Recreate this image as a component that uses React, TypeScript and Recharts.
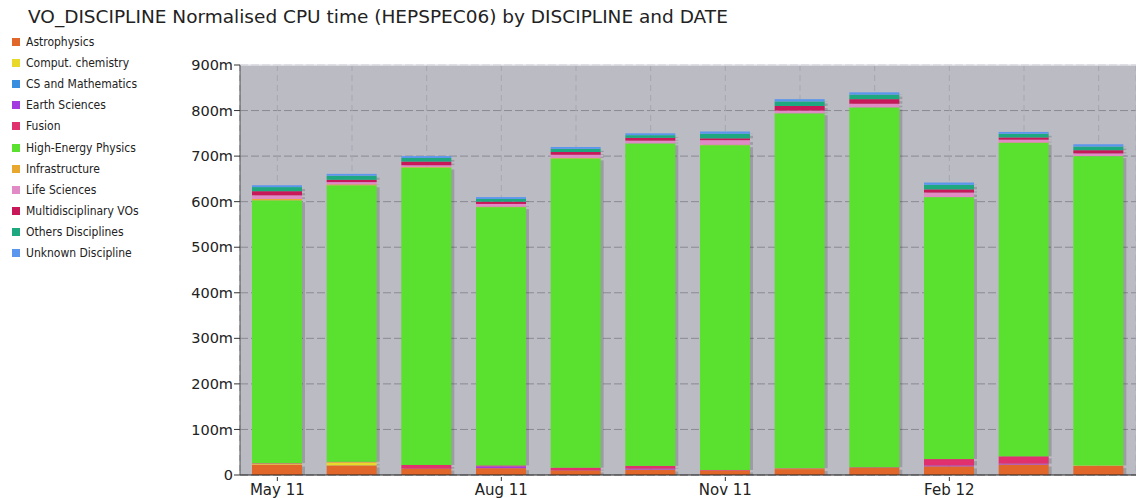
import React from "react"
import { BarChart, Bar, XAxis, YAxis, CartesianGrid, ReferenceLine } from "recharts"

const months = ["May 11", "Jun 11", "Jul 11", "Aug 11", "Sep 11", "Oct 11", "Nov 11", "Dec 11", "Jan 12", "Feb 12", "Mar 12", "Apr 12"]
const shownTicks = ["May 11", "Aug 11", "Nov 11", "Feb 12"]
const yTicks = [0, 100, 200, 300, 400, 500, 600, 700, 800, 900]
const yMinorTicks = [50, 150, 250, 350, 450, 550, 650, 750, 850]

// values in millions (the chart shows them with an "m" suffix)
const astrophysics = [23, 21, 14, 15, 10, 12, 10, 13, 16, 19, 23, 20]
const computChemistry = [2, 7, 0, 0, 0, 0, 0, 1, 0, 0, 0, 1]
const csMathematics = [0, 0, 0, 0, 0, 0, 0, 0, 0, 0, 0, 0]
const earthSciences = [0, 0, 0, 4, 0, 2, 0, 0, 0, 2, 2, 0]
const fusion = [1, 1, 8, 2, 6, 6, 1, 1, 1, 14, 16, 0]
const highEnergyPhysics = [577, 607, 653, 567, 679, 708, 713, 779, 790, 575, 688, 679]
const infrastructure = [3, 2, 1, 1, 1, 0, 1, 0, 0, 0, 1, 0]
const lifeSciences = [8, 5, 4, 6, 7, 6, 10, 6, 8, 10, 6, 6]
const multidisciplinary = [9, 5, 8, 5, 6, 6, 4, 10, 10, 7, 5, 7]
const othersDisciplines = [9, 9, 8, 6, 7, 6, 10, 10, 10, 10, 8, 8]
const unknownDiscipline = [4, 4, 4, 4, 4, 4, 5, 5, 5, 5, 4, 5]

const series = [
  { key: "astro", name: "Astrophysics", color: "#e0662a", values: astrophysics },
  { key: "comput", name: "Comput. chemistry", color: "#e8d82a", values: computChemistry },
  { key: "cs", name: "CS and Mathematics", color: "#3a8ee0", values: csMathematics },
  { key: "earth", name: "Earth Sciences", color: "#a43be0", values: earthSciences },
  { key: "fusion", name: "Fusion", color: "#e0306e", values: fusion },
  { key: "hep", name: "High-Energy Physics", color: "#5ae02e", values: highEnergyPhysics },
  { key: "infra", name: "Infrastructure", color: "#e8a830", values: infrastructure },
  { key: "life", name: "Life Sciences", color: "#e08ac6", values: lifeSciences },
  { key: "multi", name: "Multidisciplinary VOs", color: "#c8185a", values: multidisciplinary },
  { key: "others", name: "Others Disciplines", color: "#1ea880", values: othersDisciplines },
  { key: "unknown", name: "Unknown Discipline", color: "#5a96ee", values: unknownDiscipline },
]

const data = months.map((month, i) => {
  const row: { [k: string]: number | string } = { month }
  series.forEach(s => { row[s.key] = s.values[i] })
  return row
})

const ShadowBar = (props: any) => {
  const { x, y, width, height, fill } = props
  if (!height || height <= 0) return <g />
  return (
    <g>
      <rect x={x + 3} y={y + 2} width={width} height={Math.max(height - 2, 0)} fill="#000" fillOpacity={0.16} />
      <rect x={x} y={y} width={width} height={height} fill={fill} />
    </g>
  )
}

const XTick = (props: any) => {
  const { x, y, payload } = props
  if (!shownTicks.includes(payload.value)) return <g />
  return (
    <g>
      <line x1={x} x2={x} y1={y} y2={y + 4} stroke="#333" />
      <text x={x} y={y + 18} textAnchor="middle" fontSize={15} fill="#222" fontFamily="DejaVu Sans">{payload.value}</text>
    </g>
  )
}

function Legend() {
  return (
    <div style={{ position: "absolute", left: 12, top: 31, fontFamily: "DejaVu Sans Condensed", fontSize: 12, color: "#222" }}>
      {series.map(s => (
        <div key={s.key} style={{ height: 21.2, display: "flex", alignItems: "center" }}>
          <span style={{ width: 8, height: 8, background: s.color, display: "inline-block", marginRight: 6 }} />
          <span>{s.name}</span>
        </div>
      ))}
    </div>
  )
}

export default function App() {
  return (
    <div style={{ position: "absolute", left: 0, top: 0, width: 1136, height: 498, background: "#fff", overflow: "hidden" }}>
      <div style={{ position: "absolute", left: 28, top: 6, fontFamily: "DejaVu Sans", fontSize: 18.5, color: "#222", whiteSpace: "nowrap" }}>
        VO_DISCIPLINE Normalised CPU time (HEPSPEC06) by DISCIPLINE and DATE
      </div>
      <Legend />
      <div style={{ position: "absolute", left: 0, top: 0 }}>
        <BarChart width={1136} height={498} data={data} margin={{ top: 65, right: 0, bottom: 0, left: 0 }} barSize={50}>
          <CartesianGrid fill="#babbc3" stroke="#8a8a92" strokeDasharray="8 3" vertical={false} />
          <CartesianGrid stroke="#a6a7b0" strokeDasharray="6 4" horizontal={false} />
          <XAxis dataKey="month" height={23} tickLine={false} tickSize={0} interval={0} axisLine={{ stroke: "#222" }} tick={<XTick />} />
          <YAxis yAxisId="minor" width={0} domain={[0, 900]} ticks={yMinorTicks} tick={false} axisLine={false} tickSize={4} tickLine={{ stroke: "#e03030" }} />
          <YAxis width={240} domain={[0, 900]} ticks={yTicks} interval={0} tickSize={6} tickMargin={1}
            tickFormatter={(v: number) => (v === 0 ? "0" : `${v}m`)}
            axisLine={{ stroke: "#555" }} tickLine={{ stroke: "#333" }}
            tick={{ fontSize: 14.5, fill: "#222", fontFamily: "DejaVu Sans" }} />
          <ReferenceLine y={900} stroke="#e6e6ec" strokeWidth={1.5} />
          {series.map(s => (
            <Bar key={s.key} dataKey={s.key} name={s.name} stackId="a" fill={s.color} shape={<ShadowBar />} isAnimationActive={false} />
          ))}
        </BarChart>
      </div>
    </div>
  )
}
